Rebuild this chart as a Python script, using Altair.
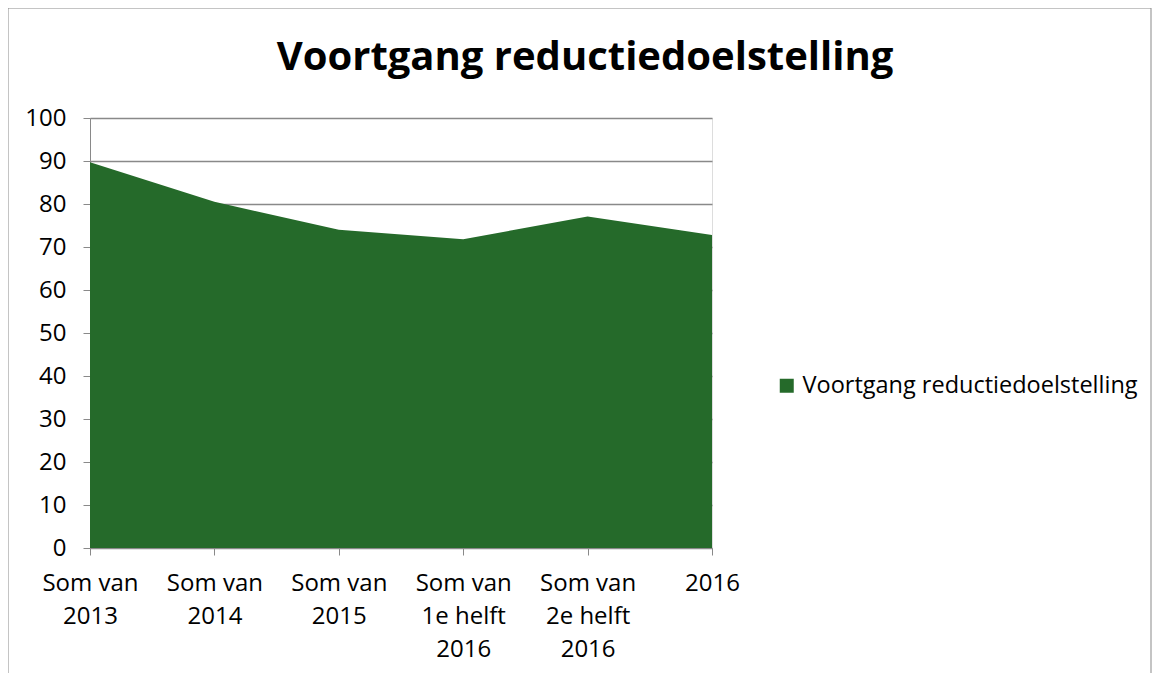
import altair as alt
import pandas as pd

categories = ["Som van|2013", "Som van|2014", "Som van|2015",
              "Som van|1e helft|2016", "Som van|2e helft|2016", "2016"]
values = [89.7, 80.5, 74.0, 71.8, 77.1, 72.8]
series_name = "Voortgang reductiedoelstelling"
chart_title = "Voortgang reductiedoelstelling"
y_ticks = list(range(0, 101, 10))

df = pd.DataFrame({"cat": categories, "val": values, "series": series_name})

FONT = "Open Sans"
GREEN = "#256A2A"
LBL = 24

area = alt.Chart(df).mark_area(interpolate="linear", opacity=1).encode(
    x=alt.X("cat:N", sort=categories, title=None,
            scale=alt.Scale(type="point", padding=0),
            axis=alt.Axis(labelExpr="split(datum.value, '|')", labelAngle=0,
                          labelAlign="center", labelBaseline="top",
                          labelFont=FONT, labelFontSize=LBL, labelColor="#000000",
                          labelLineHeight=33, labelPadding=16,
                          tickColor="#898989", tickSize=7, domainColor="#898989",
                          grid=False)),
    y=alt.Y("val:Q", title=None,
            scale=alt.Scale(domain=[0, 100], nice=False),
            axis=alt.Axis(values=y_ticks, labelFont=FONT, labelFontSize=LBL,
                          labelColor="#000000", labelPadding=17,
                          tickColor="#898989", tickSize=7, domainColor="#898989",
                          gridColor="#898989", gridWidth=1.5)),
    color=alt.Color("series:N",
                    scale=alt.Scale(domain=[series_name], range=[GREEN]),
                    legend=alt.Legend(title=None, orient="none", legendX=685, legendY=256,
                                      symbolType="square", symbolSize=196,
                                      symbolStrokeWidth=0, labelFont=FONT,
                                      labelFontSize=23.5, labelColor="#000000",
                                      labelLimit=400, labelOffset=4)),
)

border = alt.Chart(pd.DataFrame({"a": [0]})).mark_rect(
    fill=None, stroke="#898989", strokeWidth=1
).encode(x=alt.value(-82), x2=alt.value(1061), y=alt.value(-110), y2=alt.value(600))

title = alt.Chart(pd.DataFrame({"t": [chart_title]})).mark_text(
    font=FONT, fontSize=40, fontWeight="bold", color="#000000",
    align="center", baseline="middle"
).encode(text="t:N", x=alt.value(495), y=alt.value(-60))

chart = alt.layer(border, area, title).properties(
    width=622, height=430,
    autosize=alt.AutoSizeParams(type="none"),
    padding={"left": 82, "top": 110, "right": 440, "bottom": 125},
).configure_view(stroke=None).configure(background="#ffffff")

chart.save("out.html", embed_options={"renderer": "svg", "actions": False})
